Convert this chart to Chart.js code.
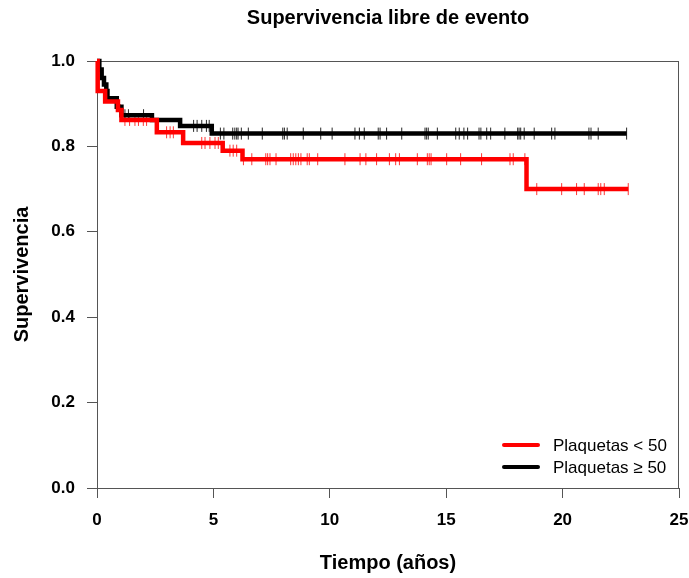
<!DOCTYPE html>
<html>
<head>
<meta charset="utf-8">
<script src="https://cdn.jsdelivr.net/npm/chart.js"></script>
<style>
  body { margin: 0; background: #fff; }
  #wrap { width: 689px; height: 578px; }
</style>
</head>
<body>
<div id="wrap"><canvas id="km" width="689" height="578"></canvas></div>
<script>
// Kaplan-Meier steps (time in years, survival after the event)
const redTimes = [0, 0.03, 0.35, 0.9, 1.05, 2.57, 3.7, 5.4, 6.25, 18.45, 22.82];
const redSurv = [1.0, 0.93, 0.905, 0.885, 0.862, 0.833, 0.808, 0.79, 0.77, 0.70, 0.70];
const blackTimes = [0, 0.1, 0.2, 0.3, 0.4, 0.45, 0.85, 1.05, 2.36, 3.57, 4.93, 22.75];
const blackSurv = [1.0, 0.98, 0.96, 0.945, 0.93, 0.913, 0.893, 0.873, 0.862, 0.848, 0.83, 0.83];

// censored observations (tick marks)
const redCensor = [1.0, 1.2, 1.4, 1.63, 1.78, 1.99, 2.13, 2.99, 3.14, 3.28, 4.5, 4.64, 4.85, 5.07, 5.21,
  5.71, 5.85, 6.0, 6.29, 6.65, 7.25, 7.33, 7.43, 7.69, 8.32, 8.43, 8.54, 8.65, 8.76, 9.03, 9.12, 9.48,
  10.65, 11.3, 11.55, 12.01, 12.56, 12.83, 12.99, 13.76, 14.19, 14.27, 14.35, 15.02, 15.62, 16.52,
  17.74, 17.88, 18.38, 18.89, 19.96, 20.6, 20.93, 21.53, 21.64, 21.79, 22.82];
const blackCensor = [1.2, 1.35, 2.0, 4.15, 4.3, 4.5, 4.7, 4.82, 5.3, 5.45, 5.83, 5.92, 6.0, 6.06, 6.2,
  6.5, 7.1, 7.98, 8.05, 8.17, 8.86, 9.61, 10.1, 11.08, 11.27, 11.48, 12.08, 12.16, 12.44, 13.09,
  14.09, 14.16, 14.23, 14.62, 15.41, 15.56, 15.76, 15.92, 16.41, 16.49, 16.74, 16.91, 17.52, 18.07,
  18.13, 18.2, 18.35, 18.78, 19.53, 19.67, 21.13, 21.22, 21.53, 22.75];

const groupLabels = ['Plaquetas < 50', 'Plaquetas \u2265 50'];
const xTicks = [0, 5, 10, 15, 20, 25];
const yTicks = [0, 0.2, 0.4, 0.6, 0.8, 1.0];

function steps(times, surv) {
  return times.map((t, i) => ({ x: t, y: surv[i] }));
}
// survival level in force at time t (last step at or before t)
function levelAt(times, surv, t) {
  let s = surv[0];
  for (let i = 0; i < times.length; i++) {
    if (times[i] <= t) s = surv[i];
  }
  return s;
}
function marks(censor, times, surv) {
  return censor.map(t => ({ x: t, y: levelAt(times, surv, t) }));
}

const boxAndLegend = {
  id: 'boxAndLegend',
  beforeDatasetsDraw(chart) {
    const { ctx, chartArea: a } = chart;
    ctx.save();
    ctx.strokeStyle = '#555';
    ctx.lineWidth = 1;
    ctx.strokeRect(a.left + 0.5, a.top + 0.5, a.right - a.left - 1, a.bottom - a.top);
    ctx.restore();
  },
  afterDraw(chart) {
    const { ctx, chartArea: a } = chart;
    const colors = ['#ff0000', '#000000'];
    ctx.save();
    ctx.font = '17px "Liberation Sans", Arial, sans-serif';
    ctx.textBaseline = 'middle';
    groupLabels.forEach((lab, i) => {
      const y = a.bottom - 43 + i * 22;
      ctx.strokeStyle = colors[i];
      ctx.lineWidth = 4;
      ctx.lineCap = 'round';
      ctx.beginPath();
      ctx.moveTo(a.right - 175, y);
      ctx.lineTo(a.right - 141, y);
      ctx.stroke();
      ctx.fillStyle = '#000';
      ctx.fillText(lab, a.right - 126, y + 1);
    });
    ctx.restore();
  }
};

new Chart(document.getElementById('km'), {
  type: 'line',
  data: {
    datasets: [
      {
        label: groupLabels[0],
        data: steps(redTimes, redSurv),
        stepped: true,
        borderColor: '#ff0000',
        borderWidth: 4.5,
        pointRadius: 0,
        fill: false,
        clip: 10
      },
      {
        label: groupLabels[1],
        data: steps(blackTimes, blackSurv),
        stepped: true,
        borderColor: '#000000',
        borderWidth: 4.5,
        pointRadius: 0,
        fill: false,
        clip: 10
      },
      {
        label: 'censor1',
        data: marks(redCensor, redTimes, redSurv),
        showLine: false,
        pointStyle: 'line',
        rotation: 90,
        pointRadius: 6,
        borderWidth: 1,
        borderColor: 'rgba(255,0,0,0.8)',
        clip: 10
      },
      {
        label: 'censor2',
        data: marks(blackCensor, blackTimes, blackSurv),
        showLine: false,
        pointStyle: 'line',
        rotation: 90,
        pointRadius: 6,
        borderWidth: 1,
        borderColor: 'rgba(0,0,0,0.85)',
        clip: 10
      }
    ]
  },
  options: {
    responsive: false,
    animation: false,
    layout: { padding: { left: 0, right: 10, top: 0, bottom: 0 } },
    plugins: {
      legend: { display: false },
      tooltip: { enabled: false },
      title: {
        display: true,
        text: 'Supervivencia libre de evento',
        fullSize: false,
        color: '#000',
        font: { family: '"Liberation Sans", Arial, sans-serif', size: 20, weight: 'bold', lineHeight: 1.2 },
        padding: { top: 6, bottom: 31 }
      }
    },
    scales: {
      x: {
        type: 'linear',
        min: 0,
        max: 25,
        afterBuildTicks: s => { s.ticks = xTicks.map(v => ({ value: v })); },
        afterFit: s => { s.height = 90; s.paddingLeft = 0; s.paddingRight = 0; },
        border: { display: true, color: '#555', width: 1 },
        grid: { drawOnChartArea: false, drawTicks: true, tickLength: 10, color: '#555' },
        ticks: {
          color: '#000',
          padding: 12,
          maxRotation: 0,
          font: { family: '"Liberation Sans", Arial, sans-serif', size: 17, weight: 'bold' },
          callback: v => String(v)
        },
        title: {
          display: true,
          text: 'Tiempo (a\u00f1os)',
          color: '#000',
          font: { family: '"Liberation Sans", Arial, sans-serif', size: 20, weight: 'bold', lineHeight: 1.2 },
          padding: { top: 0, bottom: 3 }
        }
      },
      y: {
        type: 'linear',
        min: 0,
        max: 1,
        afterBuildTicks: s => { s.ticks = yTicks.map(v => ({ value: v })); },
        afterFit: s => { s.width = 97; s.paddingTop = 0; s.paddingBottom = 0; },
        border: { display: true, color: '#555', width: 1 },
        grid: { drawOnChartArea: false, drawTicks: true, tickLength: 10, color: '#555' },
        ticks: {
          color: '#000',
          padding: 12,
          font: { family: '"Liberation Sans", Arial, sans-serif', size: 17, weight: 'bold' },
          callback: v => Number(v).toFixed(1)
        },
        title: {
          display: true,
          text: 'Supervivencia',
          color: '#000',
          font: { family: '"Liberation Sans", Arial, sans-serif', size: 20, weight: 'bold', lineHeight: 1.2 },
          padding: { top: 10, bottom: 0 }
        }
      }
    }
  },
  plugins: [boxAndLegend]
});
</script>
</body>
</html>
